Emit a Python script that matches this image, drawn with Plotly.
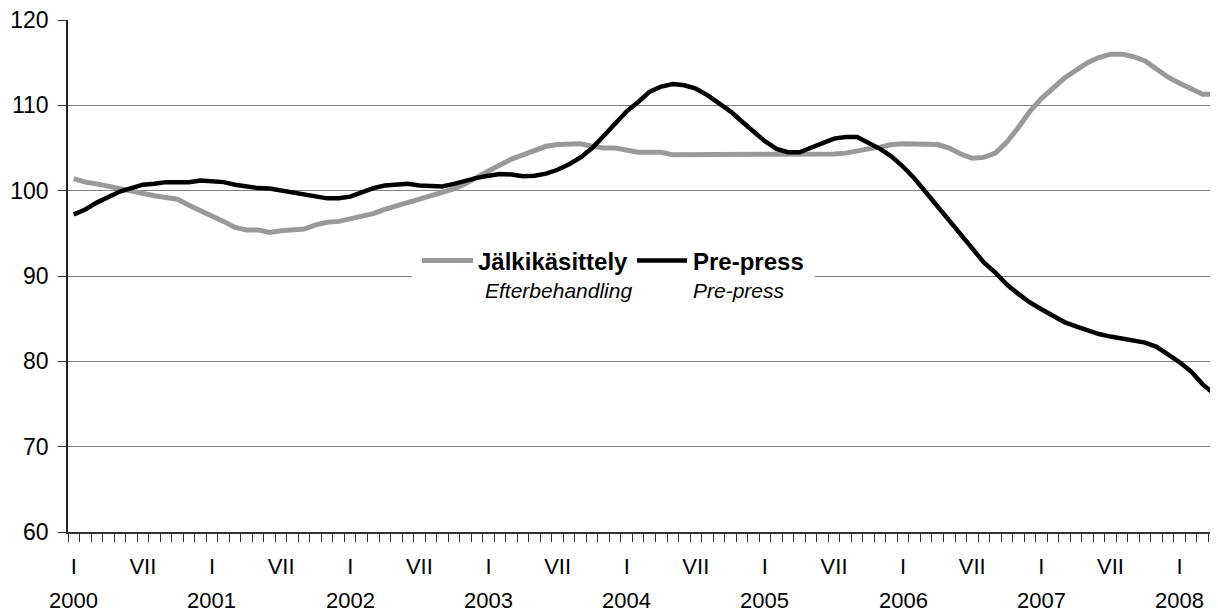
import plotly.graph_objects as go

# Monthly index values, Jan 2000 .. Apr 2008 (100 months)
months_roman = ["I", "VII"]
years = [2000, 2001, 2002, 2003, 2004, 2005, 2006, 2007, 2008]

jalkikasittely = [
    101.4, 101.0, 100.8, 100.5, 100.3, 100.0, 99.7, 99.4, 99.2, 99.0, 98.3, 97.7,
    97.1, 96.4, 95.7, 95.4, 95.4, 95.1, 95.3, 95.4, 95.5, 96.0, 96.3, 96.4,
    96.7, 97.0, 97.3, 97.8, 98.2, 98.6, 99.0, 99.4, 99.8, 100.2, 100.8, 101.6,
    102.3, 103.0, 103.7, 104.2, 104.7, 105.2, 105.4, 105.5, 105.5, 105.2, 105.0, 105.0,
    104.8, 104.5, 104.5, 104.5, 104.2, 104.2, 104.2, 104.2, 104.2, 104.2, 104.2, 104.2,
    104.2, 104.2, 104.2, 104.2, 104.2, 104.2, 104.3, 104.4, 104.7, 104.9, 105.1, 105.4,
    105.5, 105.5, 105.5, 105.4, 105.0, 104.3, 103.8, 103.9, 104.4, 105.7, 107.4, 109.3,
    110.8, 112.1, 113.2, 114.1, 115.0, 115.6, 116.0, 116.0, 115.7, 115.2, 114.3, 113.3,
    112.6, 111.9, 111.3, 111.3,
]

pre_press = [
    97.2, 97.8, 98.6, 99.3, 99.9, 100.3, 100.7, 100.8, 101.0, 101.0, 101.0, 101.2,
    101.05, 101.0, 100.7, 100.5, 100.3, 100.25, 100.0, 99.8, 99.6, 99.35, 99.1, 99.1,
    99.3, 99.8, 100.3, 100.6, 100.7, 100.8, 100.6, 100.5, 100.5, 100.8, 101.2, 101.5,
    101.75, 101.95, 101.9, 101.7, 101.75, 102.0, 102.45, 103.1, 103.9, 105.0, 106.4, 107.8,
    109.3, 110.4, 111.6, 112.2, 112.5, 112.35, 111.95, 111.2, 110.3, 109.3, 108.1, 106.9,
    105.8, 104.9, 104.5, 104.5, 105.0, 105.5, 106.1, 106.3, 106.3, 105.6, 104.9, 104.0,
    102.8, 101.4, 99.8, 98.2, 96.6, 95.0, 93.4, 91.6, 90.4, 89.0, 87.9, 86.9,
    86.1, 85.3, 84.6, 84.1, 83.6, 83.2, 82.9, 82.7, 82.5, 82.2, 81.7, 80.8,
    79.9, 78.8, 77.3, 76.2,
]

series_names = ["Jälkikäsittely", "Pre-press"]
series_names_sv = ["Efterbehandling", "Pre-press"]
series_colors = ["#999999", "#000000"]

n = len(pre_press)
x = list(range(n))

FONT = "Liberation Sans, Arial, sans-serif"

fig = go.Figure()
fig.add_trace(go.Scatter(x=x, y=jalkikasittely, mode="lines",
                         line=dict(color=series_colors[0], width=5),
                         name=series_names[0], showlegend=False))
fig.add_trace(go.Scatter(x=x, y=pre_press, mode="lines",
                         line=dict(color=series_colors[1], width=4.5),
                         name=series_names[1], showlegend=False))

# tick labels: I for January, VII for July
tickvals, ticktext = [], []
for i in range(n):
    if i % 12 == 0:
        tickvals.append(i); ticktext.append(months_roman[0])
    elif i % 12 == 6:
        tickvals.append(i); ticktext.append(months_roman[1])

annotations = []
for k, yr in enumerate(years):
    annotations.append(dict(x=12 * k, y=0, xref="x", yref="paper", text=str(yr),
                            showarrow=False, yanchor="middle", xanchor="center",
                            yshift=-68, font=dict(size=22, color="black", family=FONT)))

# the page body has an 8px margin: the figure is placed at (8, 8)
OFF = 8
PL, PR, PT, PB = 68, 1218, 20, 532  # plot area in screen pixels

def px_x(p):
    return (p - PL) / float(PR - PL)

def px_y(p):
    return (PB - p) / float(PB - PT)

shapes = [
    dict(type="rect", xref="paper", yref="paper", x0=px_x(412), x1=px_x(815),
         y0=px_y(306), y1=px_y(243), fillcolor="white", line=dict(width=0), layer="above"),
    dict(type="line", xref="paper", yref="paper", x0=px_x(422), x1=px_x(473),
         y0=px_y(260.5), y1=px_y(260.5), line=dict(color=series_colors[0], width=5), layer="above"),
    dict(type="line", xref="paper", yref="paper", x0=px_x(637), x1=px_x(687),
         y0=px_y(260.5), y1=px_y(260.5), line=dict(color=series_colors[1], width=4.5), layer="above"),
]
for xs, txt in [(476, series_names[0]), (691, series_names[1])]:
    annotations.append(dict(x=px_x(xs), y=px_y(261), xref="paper", yref="paper",
                            text="<b>" + txt + "</b>", showarrow=False,
                            xanchor="left", yanchor="middle",
                            font=dict(size=24, color="black", family=FONT)))
for xs, txt in [(483, series_names_sv[0]), (691, series_names_sv[1])]:
    annotations.append(dict(x=px_x(xs), y=px_y(290), xref="paper", yref="paper",
                            text="<i>" + txt + "</i>", showarrow=False,
                            xanchor="left", yanchor="middle",
                            font=dict(size=21, color="black", family=FONT)))

fig.update_layout(
    width=1218 - OFF, height=612 - OFF,
    margin=dict(l=PL - OFF, r=0, t=PT - OFF, b=612 - PB, autoexpand=False),
    paper_bgcolor="white", plot_bgcolor="white",
    font=dict(family=FONT, size=22, color="black"),
    shapes=shapes, annotations=annotations,
    showlegend=False,
)
fig.update_xaxes(
    range=[-0.5, 99.33], showgrid=False, zeroline=False, automargin=False,
    showline=True, linecolor="#333333", linewidth=1.5,
    tickmode="array", tickvals=tickvals, ticktext=ticktext, ticks="",
    ticklabelstandoff=14, ticklabeloverflow="allow",
    tickfont=dict(size=22, color="black", family=FONT),
    minor=dict(tickmode="array", tickvals=[i - 0.5 for i in range(n + 1)],
               ticks="outside", ticklen=8, tickwidth=1, tickcolor="#333333", showgrid=False),
)
fig.update_yaxes(
    range=[60, 120], dtick=10, tick0=60, automargin=False,
    showgrid=True, gridcolor="#808080", gridwidth=1, zeroline=False,
    showline=True, linecolor="#222222", linewidth=1.5,
    ticks="outside", ticklen=8, tickcolor="#333333", tickwidth=1,
    ticklabelstandoff=5, ticklabeloverflow="allow",
    tickfont=dict(size=23, color="black", family=FONT),
)

fig.write_html("out.html")
